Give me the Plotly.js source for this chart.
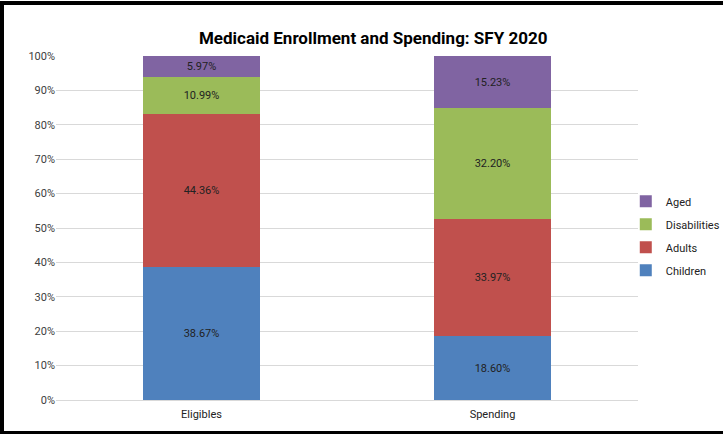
<!DOCTYPE html>
<html>
<head>
<meta charset="utf-8">
<script src="https://cdn.plot.ly/plotly-3.0.1.min.js"></script>
<style>
html,body{margin:0;padding:0;background:#fff;}
#wrap{position:relative;width:723px;height:434px;}
#chart{position:absolute;left:0;top:0;width:723px;height:434px;}
#frame{position:absolute;left:0;top:1px;width:723px;height:433px;box-sizing:border-box;
 border-left:4px solid #000;border-top:4px solid #000;border-bottom:3px solid #000;pointer-events:none;}
</style>
</head>
<body>
<div id="wrap"><div id="chart"></div><div id="frame"></div></div>
<script>
const categories = ["Eligibles", "Spending"];
const children = [38.67, 18.60];
const adults = [44.36, 33.97];
const disabilities = [10.99, 32.20];
const aged = [5.97, 15.23];
const yTickVals = [0,10,20,30,40,50,60,70,80,90,100];
const yTickText = ["0%","10%","20%","30%","40%","50%","60%","70%","80%","90%","100%"];

const FONT = "Roboto, 'Liberation Sans', Arial, sans-serif";

function mk(name, vals, color, rank){
  return {
    type:'bar', name:name, x:categories, y:vals, legendgroup:name, legendrank:rank,
    marker:{color:color},
    width:0.4,
    text: vals.map(v => v.toFixed(2) + '%'),
    textposition:'inside', insidetextanchor:'middle',
    textfont:{family:FONT, size:11, color:'#222'},
    hoverinfo:'name+y'
  };
}
const data = [
  mk('Children', children, '#4F81BD', 4),
  mk('Adults', adults, '#C0504D', 3),
  mk('Disabilities', disabilities, '#9BBB59', 2),
  mk('Aged', aged, '#8064A2', 1)
];
const layout = {
  width:723, height:434,
  margin:{l:56, r:85, t:56, b:34, autoexpand:false},
  paper_bgcolor:'#fff', plot_bgcolor:'#fff',
  barmode:'stack',
  title:{text:'<b>Medicaid Enrollment and Spending: SFY 2020</b>', x:0.545, xref:'paper', xanchor:'center',
         y:1 - 38/434, yref:'container', yanchor:'middle', font:{family:FONT, size:17, color:'#000'}},
  font:{family:FONT, size:11, color:'#333'},
  xaxis:{type:'category', range:[-0.5,1.5], showline:true, linecolor:'#D9D9D9', linewidth:1,
         ticks:'', ticklabelstandoff:4, tickfont:{family:FONT, size:11, color:'#222'}, fixedrange:true},
  yaxis:{range:[0,100], tickvals:yTickVals, ticktext:yTickText, showgrid:true, gridcolor:'#D9D9D9',
         zeroline:false, showline:false, ticks:'', ticklen:0,
         tickfont:{family:FONT, size:11, color:'#404040'}, fixedrange:true},
  legend:{x:0.979, xanchor:'left', y:0.62, yanchor:'top', traceorder:'grouped', tracegroupgap:4,
          font:{family:FONT, size:11, color:'#222'}, bgcolor:'rgba(0,0,0,0)'},
  showlegend:true
};
Plotly.newPlot('chart', data, layout, {displayModeBar:false, staticPlot:true});
</script>
</body>
</html>
